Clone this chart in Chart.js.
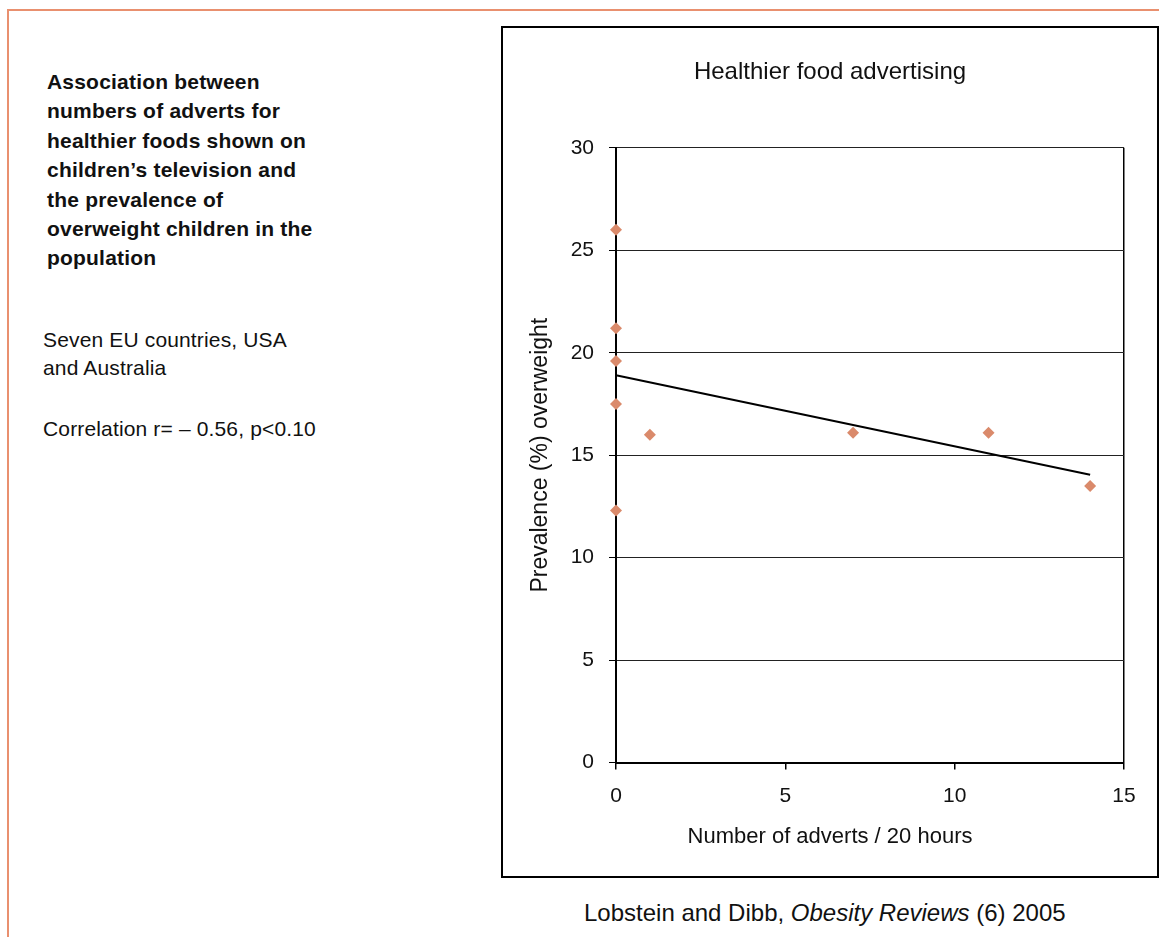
<!DOCTYPE html>
<html>
<head>
<meta charset="utf-8">
<script src="https://cdn.jsdelivr.net/npm/chart.js@4.4.0/dist/chart.umd.min.js"></script>
<style>
  body { margin: 0; background: #fff; font-family: "Liberation Sans", Arial, sans-serif; color: #111; }
  .frame { position: absolute; left: 7px; top: 9px; width: 1160px; height: 940px;
           border-top: 2px solid #E9906F; border-left: 2px solid #E9906F; }
  .heading { position: absolute; left: 47px; top: 67px; font-size: 21px; font-weight: bold;
             line-height: 29.4px; letter-spacing: 0.2px; }
  .note { position: absolute; left: 43px; font-size: 21px; line-height: 28px; letter-spacing: 0.15px; }
  .box { position: absolute; left: 501px; top: 26px; width: 654px; height: 848px; border: 2px solid #000; }
  .box canvas { display: block; }
  .source { position: absolute; left: 584px; top: 899px; font-size: 24px; }
</style>
</head>
<body>
<div class="frame"></div>
<div class="heading">Association between<br>numbers of adverts for<br>healthier foods shown on<br>children’s television and<br>the prevalence of<br>overweight children in the<br>population</div>
<div class="note" style="top:326px">Seven EU countries, USA<br>and Australia</div>
<div class="note" style="top:415px">Correlation r= – 0.56, p&lt;0.10</div>
<div class="box"><canvas id="scatterChart" width="654" height="848"></canvas></div>
<div class="source">Lobstein and Dibb, <i>Obesity Reviews</i> (6) 2005</div>

<script>
// adverts for healthier foods per 20 hours vs % overweight children
var adverts = [0, 0, 0, 0, 0, 1, 7, 11, 14];
var prevalence = [26.0, 21.2, 19.6, 17.5, 12.3, 16.0, 16.1, 16.1, 13.5];
// fitted trend line, ends
var trendX = [0, 14];
var trendY = [18.9, 14.05];
var xTicks = [0, 5, 10, 15];
var yTicks = [0, 5, 10, 15, 20, 25, 30];

var pointColor = "#DA8A6B";
var fontFam = "'Liberation Sans', Arial, sans-serif";

function toPoints(xs, ys)
{
    return xs.map(function(x, i) { return { x: x, y: ys[i] }; });
}

new Chart("scatterChart", {
    type: "scatter",
    data: {
        datasets: [{
            data: toPoints(adverts, prevalence),
            pointStyle: "rectRot",
            pointRadius: 6,
            pointBackgroundColor: pointColor,
            pointBorderColor: pointColor,
            pointBorderWidth: 0,
            clip: false
        }, {
            type: "line",
            data: toPoints(trendX, trendY),
            borderColor: "#000",
            borderWidth: 2,
            pointRadius: 0,
            fill: false,
            clip: false
        }]
    },
    options: {
        responsive: false,
        animation: false,
        layout: { padding: 0 },
        plugins: {
            legend: { display: false },
            tooltip: { enabled: false },
            title: {
                display: true,
                text: "Healthier food advertising",
                color: "#111",
                font: { family: fontFam, size: 24, weight: "normal" },
                padding: { top: 30, bottom: 61 }
            },
            subtitle: {
                display: true,
                position: "bottom",
                text: "Number of adverts / 20 hours",
                color: "#111",
                font: { family: fontFam, size: 22, weight: "normal" },
                padding: { top: 11, bottom: 26 }
            }
        },
        scales: {
            x: {
                type: "linear",
                min: 0,
                max: 15,
                afterFit: function(scale) { scale.height = 50; },
                afterBuildTicks: function(scale) { scale.ticks = xTicks.map(function(v) { return { value: v }; }); },
                ticks: { color: "#111", padding: 14, font: { family: fontFam, size: 21 } },
                grid: {
                    drawOnChartArea: true,
                    tickLength: 7,
                    tickColor: "#000",
                    color: function(ctx) { return ctx.tick && ctx.tick.value === 15 ? "#000" : "rgba(0,0,0,0)"; },
                    lineWidth: 1.5
                },
                border: { color: "#000", width: 2 }
            },
            y: {
                min: 0,
                max: 30,
                afterFit: function(scale) { scale.width = 113; },
                afterBuildTicks: function(scale) { scale.ticks = yTicks.map(function(v) { return { value: v }; }); },
                ticks: { color: "#111", padding: 15, font: { family: fontFam, size: 21 } },
                grid: { color: "#222", lineWidth: 1, tickLength: 7, tickColor: "#000" },
                border: { color: "#000", width: 2 },
                title: {
                    display: true,
                    text: "Prevalence (%) overweight",
                    color: "#111",
                    font: { family: fontFam, size: 23 },
                    padding: { top: 24, bottom: 0 }
                }
            },
            // empty right-hand margin so the titles centre on the whole box
            margin: {
                position: "right",
                min: 0,
                max: 30,
                afterFit: function(scale) { scale.width = 33; },
                ticks: { display: false },
                grid: { display: false, drawTicks: false },
                border: { display: false }
            }
        }
    }
});
</script>
</body>
</html>
